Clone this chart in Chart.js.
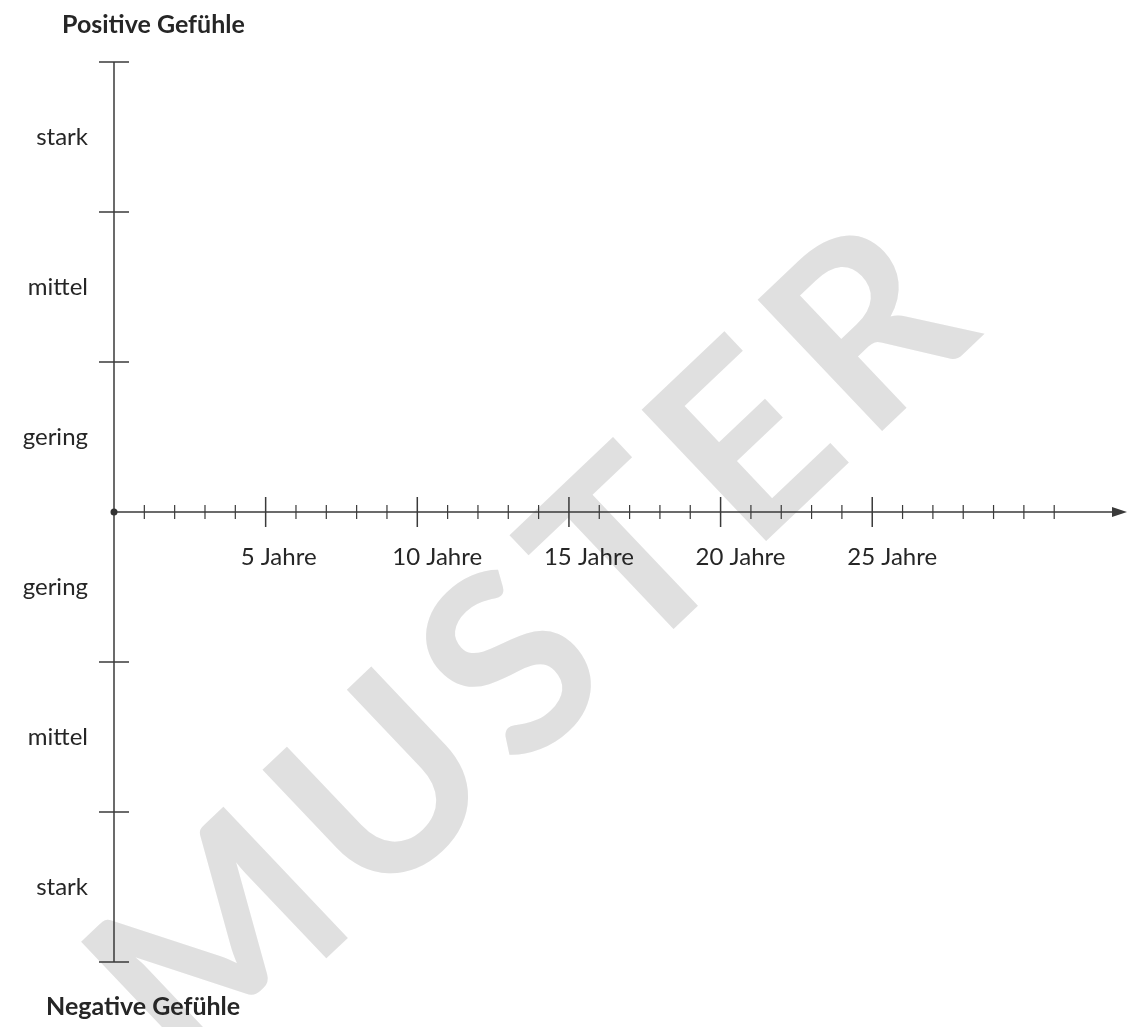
<!DOCTYPE html>
<html>
<head>
<meta charset="utf-8">
<title>Gefühle</title>
<script src="https://cdn.jsdelivr.net/npm/chart.js@4.4.1/dist/chart.umd.min.js"></script>
<style>
  html, body { margin: 0; padding: 0; background: #fff; }
  #wrap { width: 1134px; height: 1027px; }
</style>
</head>
<body>
<div id="wrap"><canvas id="gefuehle-chart" width="1134" height="1027"></canvas></div>
<script>
// Jahre auf der x-Achse
const minorYears = [1, 2, 3, 4, 6, 7, 8, 9, 11, 12, 13, 14, 16, 17, 18, 19, 21, 22, 23, 24, 26, 27, 28, 29, 30, 31];
const majorYears = [5, 10, 15, 20, 25];
const yearLabels = ['5 Jahre', '10 Jahre', '15 Jahre', '20 Jahre', '25 Jahre'];

// Stärke der Gefühle auf der y-Achse
const levelTicks = [3, 2, 1, -1, -2, -3];
const levelValues = [2.5, 1.5, 0.5, -0.5, -1.5, -2.5];
const levelLabels = ['stark', 'mittel', 'gering', 'gering', 'mittel', 'stark'];

const topTitle = 'Positive Gefühle';
const bottomTitle = 'Negative Gefühle';
const watermark = 'MUSTER';

const originPoint = [{ x: 0, y: 0 }];

const inkColor = '#3a3a3a';
const textColor = '#262626';
const labelFont = '24px Lato, "Open Sans", sans-serif';
const titleFont = 'bold 25px Lato, "Open Sans", sans-serif';

// Achsen, Striche und Texte werden über die Skalen des Diagramms gezeichnet
const axisPlugin = {
  id: 'axisPlugin',
  beforeDraw(chart) {
    const ctx = chart.ctx;
    ctx.save();
    ctx.fillStyle = '#fff';
    ctx.fillRect(0, 0, chart.width, chart.height);

    // Wasserzeichen
    ctx.translate(532, 652);
    ctx.rotate(-43.5 * Math.PI / 180);
    ctx.font = 'bold 250px Lato, "DejaVu Sans", sans-serif';
    ctx.letterSpacing = '16px';
    ctx.fillStyle = '#e0e0e0';
    ctx.textAlign = 'center';
    ctx.textBaseline = 'middle';
    ctx.fillText(watermark, 8, 0);
    ctx.restore();
  },
  beforeDatasetsDraw(chart) {
    const ctx = chart.ctx;
    const x = chart.scales.x;
    const y = chart.scales.y;
    const x0 = x.getPixelForValue(0);
    const y0 = y.getPixelForValue(0);
    const xEnd = x.right;

    ctx.save();
    ctx.strokeStyle = inkColor;
    ctx.fillStyle = inkColor;
    ctx.lineWidth = 1.5;

    // y-Achse
    ctx.beginPath();
    ctx.moveTo(x0, y.getPixelForValue(3));
    ctx.lineTo(x0, y.getPixelForValue(-3));
    ctx.stroke();
    levelTicks.forEach(v => {
      const py = y.getPixelForValue(v);
      ctx.beginPath();
      ctx.moveTo(x0 - 15, py);
      ctx.lineTo(x0 + 15, py);
      ctx.stroke();
    });

    // x-Achse mit Pfeil
    ctx.beginPath();
    ctx.moveTo(x0, y0);
    ctx.lineTo(xEnd - 10, y0);
    ctx.stroke();
    ctx.beginPath();
    ctx.moveTo(xEnd, y0);
    ctx.lineTo(xEnd - 15, y0 - 5);
    ctx.lineTo(xEnd - 15, y0 + 5);
    ctx.closePath();
    ctx.fill();

    ctx.lineWidth = 1.2;
    minorYears.forEach(v => {
      const px = x.getPixelForValue(v);
      ctx.beginPath();
      ctx.moveTo(px, y0 - 7);
      ctx.lineTo(px, y0 + 7);
      ctx.stroke();
    });
    ctx.lineWidth = 1.5;
    majorYears.forEach(v => {
      const px = x.getPixelForValue(v);
      ctx.beginPath();
      ctx.moveTo(px, y0 - 15);
      ctx.lineTo(px, y0 + 15);
      ctx.stroke();
    });

    // Beschriftungen
    ctx.fillStyle = textColor;
    ctx.font = labelFont;
    ctx.textBaseline = 'middle';
    ctx.textAlign = 'left';
    majorYears.forEach((v, i) => {
      ctx.fillText(yearLabels[i], x.getPixelForValue(v) - 25, y0 + 45);
    });
    ctx.textAlign = 'right';
    levelValues.forEach((v, i) => {
      ctx.fillText(levelLabels[i], x0 - 26, y.getPixelForValue(v));
    });

    ctx.font = titleFont;
    ctx.textAlign = 'left';
    ctx.fillText(topTitle, x0 - 52, y.getPixelForValue(3) - 37);
    ctx.fillText(bottomTitle, x0 - 68, y.getPixelForValue(-3) + 45);
    ctx.restore();
  }
};

const ctx = document.getElementById('gefuehle-chart').getContext('2d');
const chart = new Chart(ctx, {
  type: 'scatter',
  data: {
    datasets: [{
      data: originPoint,
      pointRadius: 3.5,
      pointBackgroundColor: '#333',
      pointBorderWidth: 0,
      clip: false
    }]
  },
  options: {
    responsive: false,
    animation: false,
    layout: { padding: { left: 114, right: 7, top: 62, bottom: 65 } },
    plugins: { legend: { display: false }, tooltip: { enabled: false } },
    scales: {
      x: { type: 'linear', min: 0, max: 33.4, display: false },
      y: { type: 'linear', min: -3, max: 3, display: false }
    }
  },
  plugins: [axisPlugin]
});
</script>
</body>
</html>
